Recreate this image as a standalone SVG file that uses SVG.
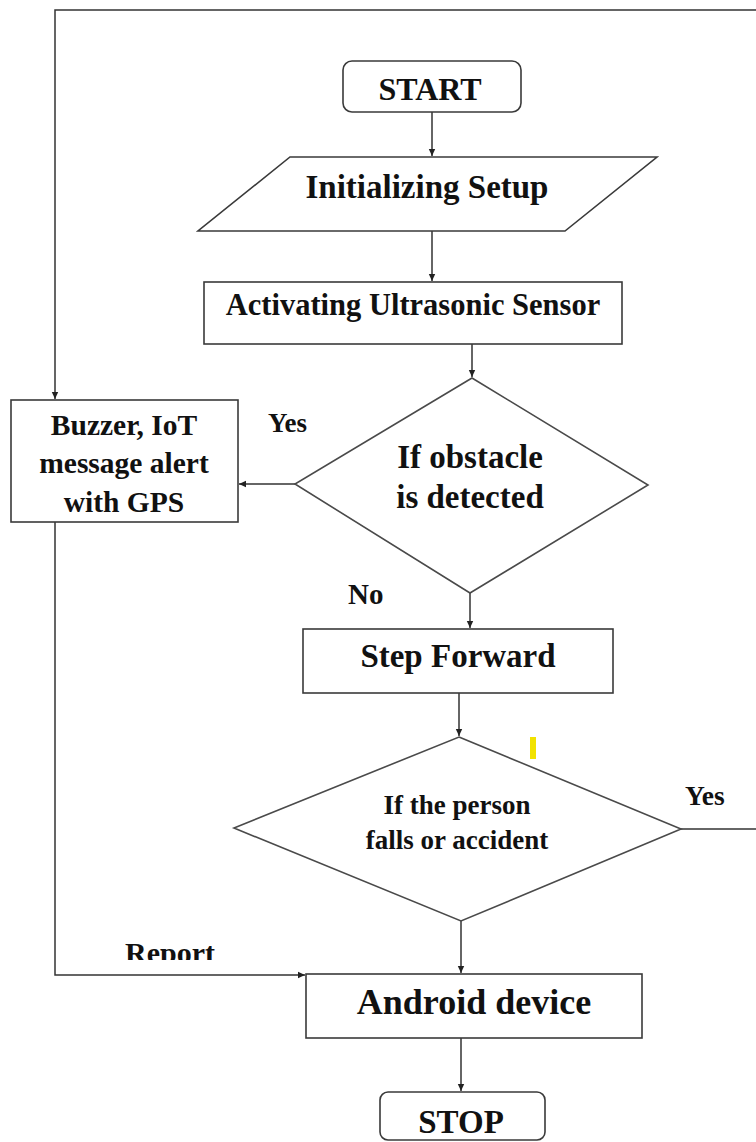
<svg xmlns="http://www.w3.org/2000/svg" width="756" height="1142" viewBox="0 0 756 1142">
<style>
.s{fill:#fff;stroke:#3a3a3a;stroke-width:1.6}
.d{fill:#fff;stroke:#4a4a4a;stroke-width:1.6}
.c{fill:none;stroke:#333;stroke-width:1.5}
.t{font-family:"Liberation Serif","Times New Roman",serif;font-weight:bold;fill:#111;text-anchor:middle}
.l{font-family:"Liberation Serif","Times New Roman",serif;font-weight:bold;fill:#111}
</style>
<defs>
<marker id="ah" markerWidth="8" markerHeight="8" refX="7" refY="4" orient="auto" markerUnits="userSpaceOnUse">
<path d="M0,0.8 L7,4 L0,7.2 Z" fill="#222"/>
</marker>
<clipPath id="rc"><rect x="100" y="930" width="140" height="30"/></clipPath>
</defs>
<rect width="756" height="1142" fill="#fff"/>
<g id="connectors">
<path class="c" d="M756,10 H55 V399" marker-end="url(#ah)"/>
<path class="c" d="M432,112 V156" marker-end="url(#ah)"/>
<path class="c" d="M432,231 V281" marker-end="url(#ah)"/>
<path class="c" d="M472,344 V377" marker-end="url(#ah)"/>
<path class="c" d="M295,484 H239" marker-end="url(#ah)"/>
<path class="c" d="M470,593 V628" marker-end="url(#ah)"/>
<path class="c" d="M459,693 V736" marker-end="url(#ah)"/>
<path class="c" d="M681,829 H756"/>
<path class="c" d="M461,921 V973" marker-end="url(#ah)"/>
<path class="c" d="M55,522 V975 H305" marker-end="url(#ah)"/>
<path class="c" d="M461,1038 V1091" marker-end="url(#ah)"/>
</g>
<g id="start">
<rect class="s" x="343" y="61" width="178" height="51" rx="9"/>
<text class="t" x="430" y="100" font-size="32">START</text>
</g>
<g id="init">
<polygon class="s" points="290,157 657,157 565,231 198,231"/>
<text class="t" x="427" y="198" font-size="33">Initializing Setup</text>
</g>
<g id="activate">
<rect class="s" x="204" y="282" width="418" height="62"/>
<text class="t" x="413" y="315" font-size="30.5">Activating Ultrasonic Sensor</text>
</g>
<g id="obstacle">
<polygon class="d" points="472,378 648,485 470,593 295,484"/>
<text class="t" x="470" y="468" font-size="33">If obstacle</text>
<text class="t" x="470" y="508" font-size="33">is detected</text>
</g>
<g id="buzzer">
<rect class="s" x="11" y="400" width="227" height="122"/>
<text class="t" x="124" y="435" font-size="29.5">Buzzer, IoT</text>
<text class="t" x="124" y="473" font-size="29.5">message alert</text>
<text class="t" x="124" y="512" font-size="29.5">with GPS</text>
</g>
<g id="step">
<rect class="s" x="303" y="629" width="310" height="64"/>
<text class="t" x="458" y="667" font-size="33">Step Forward</text>
</g>
<g id="fall">
<polygon class="d" points="459,737 681,829 461,921 234,828"/>
<text class="t" x="457" y="814" font-size="27">If the person</text>
<text class="t" x="457" y="849" font-size="27">falls or accident</text>
</g>
<g id="android">
<rect class="s" x="306" y="974" width="336" height="64"/>
<text class="t" x="474" y="1014" font-size="36">Android device</text>
</g>
<g id="stop">
<rect class="s" x="380" y="1092" width="165" height="48" rx="8"/>
<text class="t" x="461" y="1133" font-size="33">STOP</text>
</g>
<g id="labels">
<text class="l" x="268" y="432" font-size="27">Yes</text>
<text class="l" x="348" y="604" font-size="29">No</text>
<text class="l" x="685" y="805" font-size="27.5">Yes</text>
<text class="l" x="125" y="963" font-size="30" clip-path="url(#rc)">Report</text>
</g>
<rect id="mark" x="530" y="737" width="6" height="22" fill="#f2e200"/>
</svg>
